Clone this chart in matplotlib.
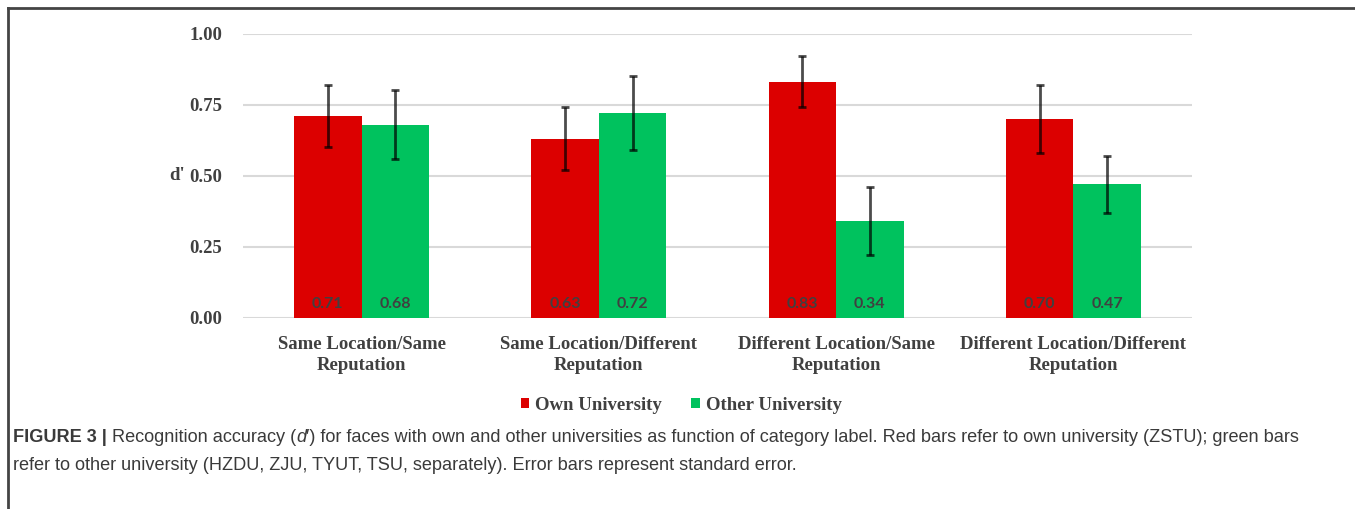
import matplotlib.pyplot as plt
from matplotlib.patches import Patch
from matplotlib.lines import Line2D
import numpy as np

categories = ["Same Location/Same\nReputation", "Same Location/Different\nReputation",
              "Different Location/Same\nReputation", "Different Location/Different\nReputation"]
own = [0.71, 0.63, 0.83, 0.70]
other = [0.68, 0.72, 0.34, 0.47]
own_se = [0.11, 0.11, 0.09, 0.12]
other_se = [0.12, 0.13, 0.12, 0.10]
yticks = [0.00, 0.25, 0.50, 0.75, 1.00]
series_names = ["Own University", "Other University"]

RED = "#DC0000"
GREEN = "#00C25E"
TXT = "#404040"
serif = {"family": "Liberation Serif", "weight": "bold", "size": 13.5}

fig = plt.figure(figsize=(13.55, 5.09), dpi=100)
W, H = 1355, 509
ax = fig.add_axes([243 / W, 1 - 318 / H, (1192 - 243) / W, (318 - 33.5) / H])

x = np.arange(len(categories))
w = 0.285
ax.bar(x - w / 2, own, w, color=RED, zorder=2)
ax.bar(x + w / 2, other, w, color=GREEN, zorder=2)
ax.errorbar(x - w / 2, own, yerr=own_se, fmt="none", ecolor="black", alpha=0.7,
            elinewidth=2, capsize=3, capthick=2, zorder=3)
ax.errorbar(x + w / 2, other, yerr=other_se, fmt="none", ecolor="black", alpha=0.7,
            elinewidth=2, capsize=3, capthick=2, zorder=3)

# value labels sit near the bottom of each bar
for xs, vals in ((x - w / 2, own), (x + w / 2, other)):
    for xi, v in zip(xs, vals):
        ax.text(xi, 0.05, f"{v:.2f}", ha="center", va="center", fontsize=11.5,
                family="Lato", weight="bold", color=TXT, zorder=4)

ax.set_xlim(-0.5, len(categories) - 0.5)
ax.set_ylim(0, 1.0)
ax.set_yticks(yticks, [f"{t:.2f}" for t in yticks])
ax.set_xticks(x, categories)
for lab in ax.get_xticklabels() + ax.get_yticklabels():
    lab.set_fontproperties(serif)
    lab.set_color(TXT)
for lab in ax.get_xticklabels():
    lab.set_linespacing(1.3)
ax.tick_params(axis="x", length=0, pad=13)
ax.tick_params(axis="y", length=0, pad=15)
for s in ax.spines.values():
    s.set_visible(False)
ax.yaxis.grid(True, color="#D9D9D9", linewidth=1.5, zorder=0)
ax.set_axisbelow(True)

fig.text(177 / W, 1 - 176 / H, "d'", ha="center", va="center", color=TXT, **serif)

handles = [Patch(facecolor=RED), Patch(facecolor=GREEN)]
fig.legend(handles, series_names, loc="center", bbox_to_anchor=(681 / W, 1 - 405 / H),
           ncol=2, frameon=False, handlelength=0.45, handleheight=0.45,
           handletextpad=0.3, columnspacing=1.6, prop=serif, labelcolor=TXT)

# frame lines around the figure panel
fig.add_artist(Line2D([8 / W, 1], [1 - 8 / H] * 2, color="#444444", lw=2))
fig.add_artist(Line2D([8 / W] * 2, [0, 1 - 8 / H], color="#444444", lw=2))


def rich_line(x0, y0, parts):
    r = fig.canvas.get_renderer()
    xx = x0
    for s, props in parts:
        t = fig.text(xx, y0, s, va="center", ha="left", fontsize=13.1,
                     family="Liberation Sans", color="#3A3A3A", **props)
        xx += t.get_window_extent(renderer=r).width / W


cap1 = [("FIGURE 3 | ", {"weight": "bold"}),
        ("Recognition accuracy (", {}),
        ("d", {"style": "italic"}),
        ("\u2032) for faces with own and other universities as function of category label. "
         "Red bars refer to own university (ZSTU); green bars", {})]
cap2 = [("refer to other university (HZDU, ZJU, TYUT, TSU, separately). "
         "Error bars represent standard error.", {})]
rich_line(13 / W, 1 - 438 / H, cap1)
rich_line(13 / W, 1 - 466 / H, cap2)

fig.savefig("out.png", dpi=100)
